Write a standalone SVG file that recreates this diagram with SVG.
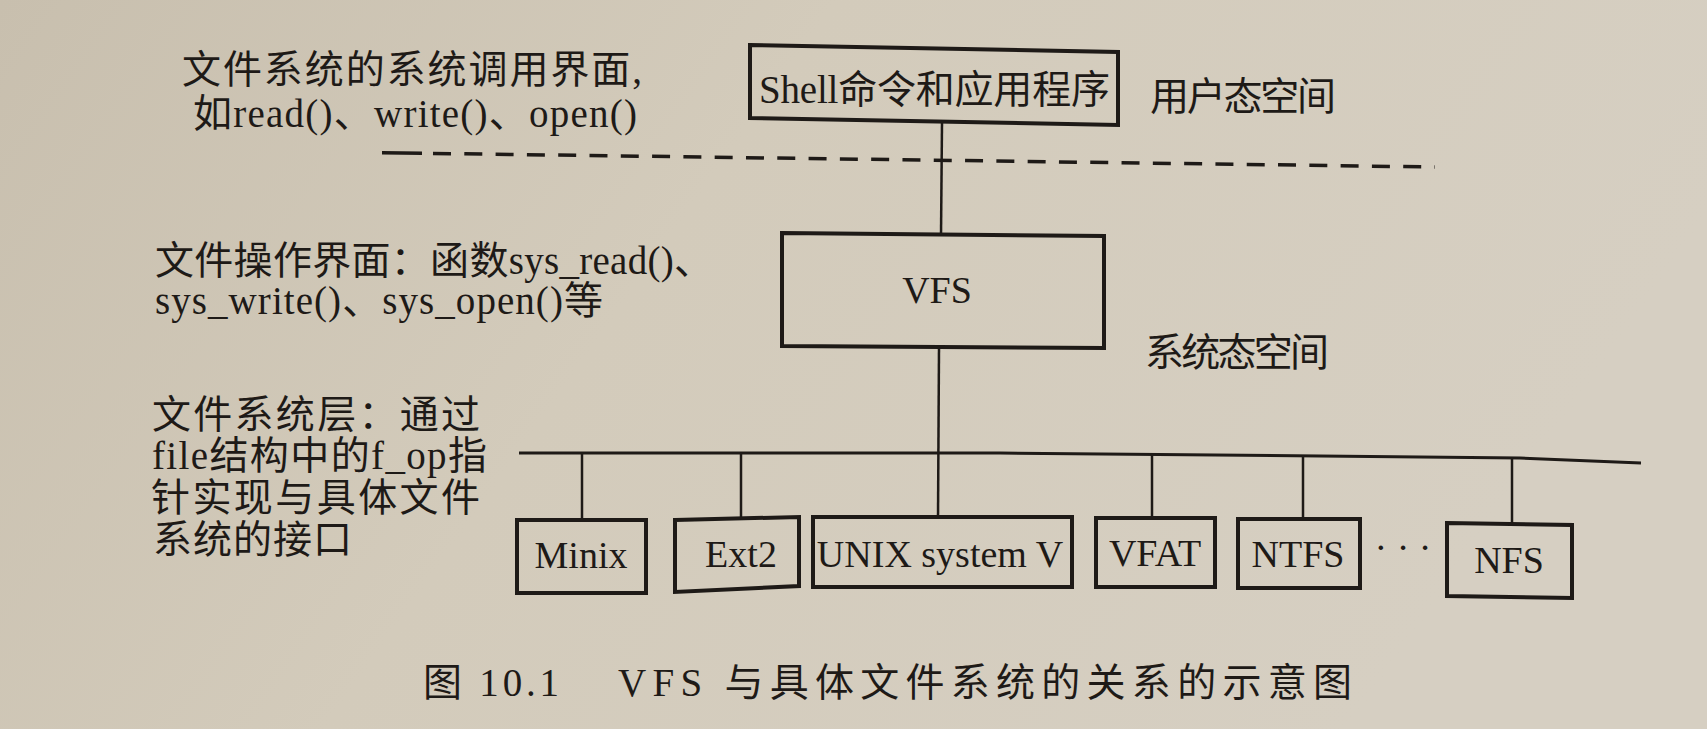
<svg xmlns="http://www.w3.org/2000/svg" width="1707" height="729" viewBox="0 0 1707 729">
  <defs>
    <linearGradient id="paper" x1="0" y1="0" x2="1" y2="0.3">
      <stop offset="0" stop-color="#c8bfae"/>
      <stop offset="0.45" stop-color="#d3cbbb"/>
      <stop offset="1" stop-color="#d6cfc2"/>
    </linearGradient>
    <style>
      .t { font-family: 'Liberation Serif', 'Noto Sans CJK SC', serif; font-size: 39px; fill: #1e1a17; }
      .lbl { font-family: 'Liberation Serif', 'Noto Sans CJK SC', serif; font-size: 38px; fill: #1e1a17; text-anchor: middle; }
      .box { fill: none; stroke: #1e1a17; stroke-width: 4; stroke-linejoin: miter; }
      .ln { fill: none; stroke: #1e1a17; stroke-width: 2.5; }
      .bus { fill: none; stroke: #1e1a17; stroke-width: 3; }
      .dash { fill: none; stroke: #1e1a17; stroke-width: 3.5; }
    </style>
  </defs>
  <rect x="0" y="0" width="1707" height="729" fill="url(#paper)"/>

  <!-- left descriptive labels -->
  <g id="label-syscall">
    <text class="t" x="182" y="83" textLength="460" lengthAdjust="spacing">文件系统的系统调用界面,</text>
    <text class="t" x="193" y="127" textLength="444" lengthAdjust="spacing">如read()、write()、open()</text>
  </g>
  <g id="label-fileops">
    <text class="t" x="155" y="274" font-size="36" textLength="558" lengthAdjust="spacing">文件操作界面：函数sys_read()、</text>
    <text class="t" x="155" y="314" font-size="36" textLength="448" lengthAdjust="spacing">sys_write()、sys_open()等</text>
  </g>
  <g id="label-fslayer">
    <text class="t" x="152" y="428" textLength="328" lengthAdjust="spacing">文件系统层：通过</text>
    <text class="t" x="152" y="469" textLength="335" lengthAdjust="spacing">file结构中的f_op指</text>
    <text class="t" x="151" y="511" textLength="329" lengthAdjust="spacing">针实现与具体文件</text>
    <text class="t" x="153" y="553" textLength="199" lengthAdjust="spacing">系统的接口</text>
  </g>
  <g id="label-user">
    <text class="t" x="1150" y="110" textLength="186" lengthAdjust="spacing">用户态空间</text>
  </g>
  <g id="label-kernel">
    <text class="t" x="1145" y="366" textLength="184" lengthAdjust="spacing">系统态空间</text>
  </g>

  <!-- connectors -->
  <g id="connectors">
    <line class="dash" x1="382" y1="152.7" x2="422" y2="153.2"/>
    <line class="dash" x1="433" y1="153.4" x2="1435" y2="167" stroke-dasharray="18 13.3"/>
    <line class="ln" x1="942" y1="123" x2="941" y2="235"/>
    <line class="ln" x1="939" y1="347" x2="938" y2="519"/>
    <polyline class="bus" points="519,453 1000,453 1520,458 1641,463"/>
    <line class="ln" x1="582" y1="453" x2="582" y2="521"/>
    <line class="ln" x1="741" y1="453" x2="741" y2="518"/>
    <line class="ln" x1="1152" y1="454" x2="1152" y2="519"/>
    <line class="ln" x1="1303" y1="455" x2="1303" y2="520"/>
    <line class="ln" x1="1512" y1="458" x2="1512" y2="524"/>
  </g>

  <g id="node-shell">
    <polygon class="box" points="750,45 1118,52 1118,125 750,118"/>
    <text class="t" x="759" y="103" font-size="38" textLength="351" lengthAdjust="spacing">Shell命令和应用程序</text>
  </g>
  <g id="node-vfs">
    <polygon class="box" points="782,233 1104,236 1104,348 782,346"/>
    <text class="lbl" x="937" y="303">VFS</text>
  </g>
  <g id="node-minix">
    <rect class="box" x="517" y="520" width="129" height="73"/>
    <text class="lbl" x="581" y="568">Minix</text>
  </g>
  <g id="node-ext2">
    <polygon class="box" points="675,520 799,517 799,586 675,592"/>
    <text class="lbl" x="741" y="567">Ext2</text>
  </g>
  <g id="node-unix">
    <rect class="box" x="813" y="517" width="259" height="70"/>
    <text class="lbl" x="940" y="567">UNIX system V</text>
  </g>
  <g id="node-vfat">
    <rect class="box" x="1096" y="518" width="119" height="69"/>
    <text class="lbl" x="1155" y="566">VFAT</text>
  </g>
  <g id="node-ntfs">
    <rect class="box" x="1238" y="519" width="122" height="69"/>
    <text class="lbl" x="1298" y="567">NTFS</text>
  </g>
  <g id="dots">
    <text class="lbl" x="1403" y="560">· · ·</text>
  </g>
  <g id="node-nfs">
    <polygon class="box" points="1447,523 1572,525 1572,598 1447,596"/>
    <text class="lbl" x="1509" y="573">NFS</text>
  </g>

  <!-- caption -->
  <g id="caption">
    <text class="t" x="423" y="696" font-size="45" textLength="136" lengthAdjust="spacing">图 10.1</text>
    <text class="t" x="618" y="696" font-size="45" textLength="734" lengthAdjust="spacing">VFS 与具体文件系统的关系的示意图</text>
  </g>
</svg>
